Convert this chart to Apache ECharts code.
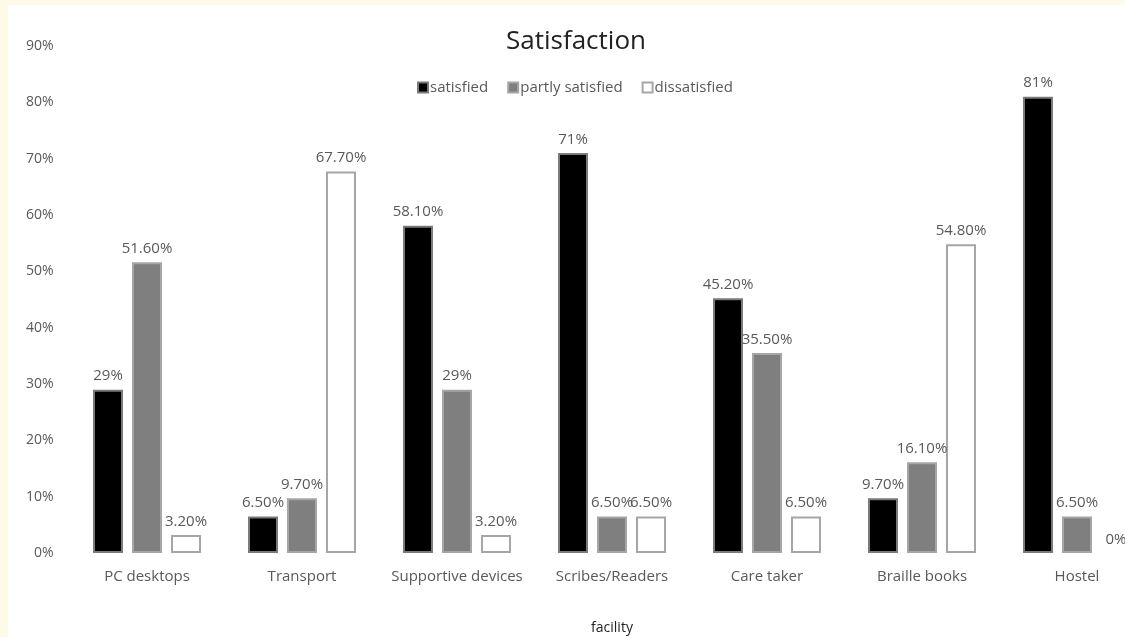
<!DOCTYPE html>
<html lang="en">
<head>
  <meta charset="UTF-8">
  <title>Satisfaction</title>
  <script src="https://cdn.jsdelivr.net/npm/echarts@6/dist/echarts.min.js"></script>
  <style>
    html, body { margin: 0; padding: 0; overflow: hidden; background: #fff9e8; }
    #chart { position: absolute; left: 8px; top: 5px; width: 1160px; height: 640px; background: #fff; }
  </style>
</head>
<body>
  <div id="chart"></div>

  <script>
    // data
    let facilities = ['PC desktops', 'Transport', 'Supportive devices', 'Scribes/Readers', 'Care taker', 'Braille books', 'Hostel']
    let satisfied = [29, 6.5, 58.1, 71, 45.2, 9.7, 81]
    let partly = [51.6, 9.7, 29, 6.5, 35.5, 16.1, 6.5]
    let dissatisfied = [3.2, 67.7, 3.2, 6.5, 6.5, 54.8, 0]
    // label texts as printed on the chart
    let satisfiedText = ['29%', '6.50%', '58.10%', '71%', '45.20%', '9.70%', '81%']
    let partlyText = ['51.60%', '9.70%', '29%', '6.50%', '35.50%', '16.10%', '6.50%']
    let dissatisfiedText = ['3.20%', '67.70%', '3.20%', '6.50%', '6.50%', '54.80%', '0%']
    let yTicks = [0, 10, 20, 30, 40, 50, 60, 70, 80, 90]

    let font = 'Open Sans'
    let grey = '#595959'

    let myChart = echarts.init(document.querySelector('#chart'))

    function makeSeries(name, values, texts, fill, border) {
      return {
        name: name,
        type: 'bar',
        barWidth: 30,
        barGap: '30%',
        // a zero bar shows no outline
        data: values.map(v => v === 0 ? { value: v, itemStyle: { borderWidth: 0 } } : v),
        itemStyle: { color: fill, borderColor: border, borderWidth: 2 },
        label: {
          show: true,
          position: 'top',
          distance: 6,
          color: grey,
          fontFamily: font,
          fontSize: 15,
          formatter: p => texts[p.dataIndex]
        }
      }
    }

    let options = {
      animation: false,
      title: {
        text: 'Satisfaction',
        left: 563,
        textAlign: 'center',
        top: 19,
        textStyle: { fontFamily: font, fontSize: 26, fontWeight: 'normal', color: '#222' }
      },
      legend: {
        left: 404,
        top: 70,
        itemWidth: 10,
        itemHeight: 10,
        itemGap: 19,
        icon: 'rect',
        textStyle: { fontFamily: font, fontSize: 15, color: grey, padding: [0, 0, 0, -3] },
        data: ['satisfied', 'partly satisfied', 'dissatisfied']
      },
      grid: { left: 61.5, top: 41, width: 1085, height: 507, containLabel: false },
      xAxis: {
        type: 'category',
        data: facilities,
        name: 'facility',
        nameLocation: 'middle',
        nameGap: 68,
        nameTextStyle: { fontFamily: font, fontSize: 14, color: '#222' },
        axisLine: { show: false },
        axisTick: { show: false },
        axisLabel: { interval: 0, margin: 16, fontFamily: font, fontSize: 15, color: grey }
      },
      yAxis: {
        type: 'value',
        min: yTicks[0],
        max: yTicks[yTicks.length - 1],
        interval: 10,
        splitLine: { show: false },
        axisLine: { show: false },
        axisTick: { show: false },
        axisLabel: { margin: 16, fontFamily: font, fontSize: 14, color: grey, formatter: '{value}%' }
      },
      series: [
        makeSeries('satisfied', satisfied, satisfiedText, '#000000', '#7a7a7a'),
        makeSeries('partly satisfied', partly, partlyText, '#7f7f7f', '#a6a6a6'),
        makeSeries('dissatisfied', dissatisfied, dissatisfiedText, '#ffffff', '#a6a6a6')
      ]
    }
    myChart.setOption(options)
  </script>
</body>
</html>
